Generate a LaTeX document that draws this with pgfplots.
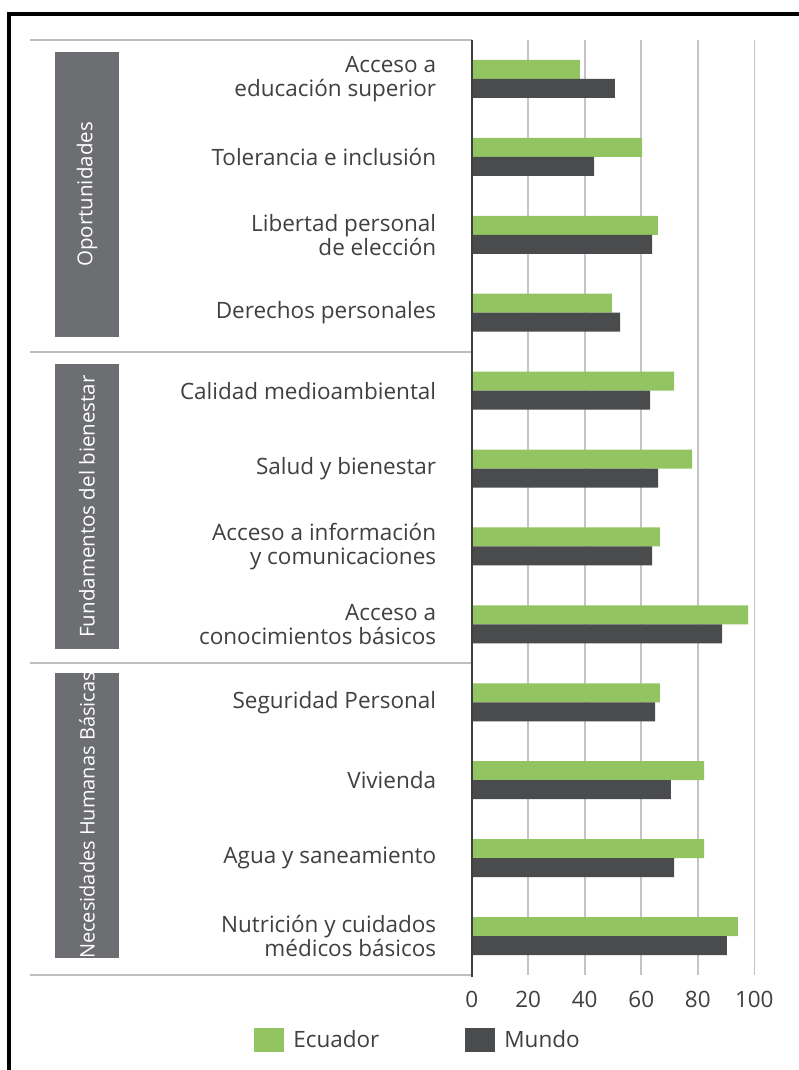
\documentclass[border=0pt]{standalone}
\usepackage{fontspec}
\setmainfont{Open Sans}
\usepackage{pgfplots}
\pgfplotsset{compat=1.18}
\definecolor{ecgreen}{HTML}{92C462}
\definecolor{mundo}{HTML}{4A4B4D}
\definecolor{txt}{HTML}{404040}
\definecolor{boxg}{HTML}{6D6E71}
\definecolor{gridg}{HTML}{C4C4C8}
\definecolor{sepg}{HTML}{BFBFBF}
\definecolor{axd}{HTML}{3F3F3F}
\begin{document}
\begin{tikzpicture}
\useasboundingbox (0,0) rectangle (798pt,1070pt);
\fill[white] (0,0) rectangle (798pt,1070pt);
\draw[black, line width=4pt] (8.5pt,-5pt) -- (8.5pt,1055.5pt) -- (810pt,1055.5pt);
\begin{axis}[
  at={(471.7pt,95pt)}, anchor=south west,
  scale only axis, width=282.6pt, height=935pt,
  xmin=0, xmax=100, ymin=-0.5, ymax=11.5,
  xtick={0,20,...,100}, ytick={0,...,11},
  yticklabels={{Nutrición y cuidados\\médicos básicos},{Agua y saneamiento},{Vivienda},{Seguridad Personal},{Acceso a\\conocimientos básicos},{Acceso a información\\y comunicaciones},{Salud y bienestar},{Calidad medioambiental},{Derechos personales},{Libertad personal\\de elección},{Tolerancia e inclusión},{Acceso a\\educación superior}},
  major tick length=0pt,
  axis line style={draw=none},
  xmajorgrids, major grid style={gridg, line width=1.6pt},
  xbar, bar width=19pt,
  clip=false,
  /pgf/number format/assume math mode=true,
  ticklabel style={font=\fontsize{22.5}{24}\selectfont, text=txt},
  yticklabel style={align=right, xshift=-32pt},
  xticklabel style={yshift=-13pt},
  legend columns=2,
  legend style={at={(-0.19,-0.0695)}, anchor=center, draw=none, fill=none,
    font=\fontsize{22.5}{24}\selectfont, text=txt,
    /tikz/every odd column/.append style={column sep=7pt},
    /tikz/every even column/.append style={column sep=84pt}},
  legend image code/.code={\fill[#1] (0pt,-12pt) rectangle (30pt,12pt);},
]
\addplot[fill=ecgreen, draw=none, bar shift=9.5pt] coordinates {
(94.2,0) (82.2,1) (82.2,2) (66.6,3) (97.8,4) (66.6,5) (78.0,6) (71.6,7) (49.6,8) (65.9,9) (60.3,10) (38.3,11)};
\addlegendentry{Ecuador}
\addplot[fill=mundo, draw=none, bar shift=-9.5pt] coordinates {
(90.3,0) (71.6,1) (70.5,2) (64.9,3) (88.6,4) (63.8,5) (66.0,6) (63.1,7) (52.5,8) (63.8,9) (43.3,10) (50.7,11)};
\addlegendentry{Mundo}
\draw[sepg, line width=2pt] (axis cs:0,11.5) -- ++(-441.7pt,0pt);
\draw[sepg, line width=2pt] (axis cs:0,7.5) -- ++(-441.7pt,0pt);
\draw[sepg, line width=2pt] (axis cs:0,3.5) -- ++(-441.7pt,0pt);
\draw[sepg, line width=2pt] (axis cs:0,-0.5) -- ++(-441.7pt,0pt);
\draw[axd, line width=2pt] (axis cs:0,-0.5) ++(0pt,-2pt) -- (axis cs:0,11.5);
\end{axis}
\fill[boxg] (55pt,733pt) rectangle (119pt,1018pt);
\node[rotate=90, text=white, font=\fontsize{20.5}{22}\selectfont] at (87pt,875.5pt) {Oportunidades};
\fill[boxg] (55pt,421pt) rectangle (119pt,706pt);
\node[rotate=90, text=white, font=\fontsize{20.5}{22}\selectfont] at (87pt,563.5pt) {Fundamentos del bienestar};
\fill[boxg] (55pt,112pt) rectangle (119pt,397pt);
\node[rotate=90, text=white, font=\fontsize{20}{22}\selectfont] at (87pt,254.5pt) {Necesidades Humanas Básicas};
\end{tikzpicture}
\end{document}
